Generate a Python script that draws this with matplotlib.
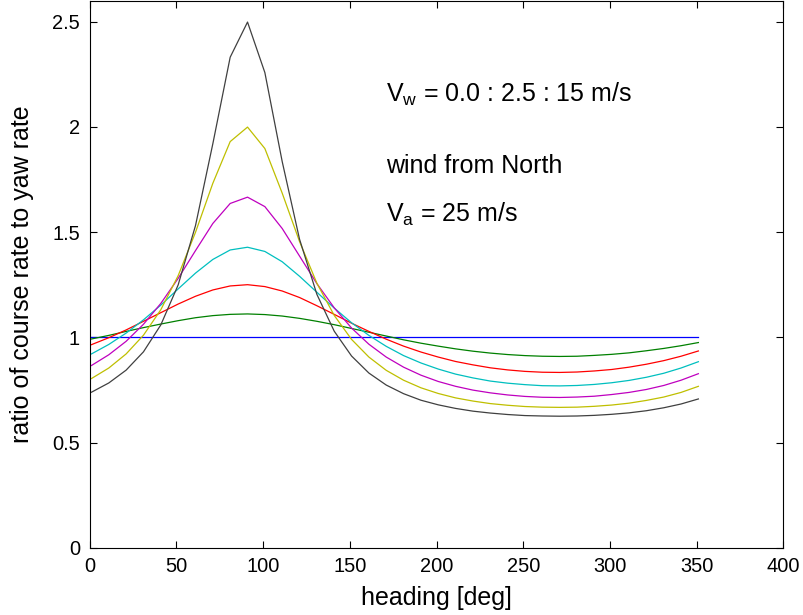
import matplotlib
matplotlib.use('Agg')
import matplotlib.pyplot as plt

plt.rcParams['font.family'] = ['Liberation Sans', 'DejaVu Sans']
plt.rcParams['mathtext.default'] = 'regular'

# heading samples [deg]
heading = [1, 11, 21, 31, 41, 51, 61, 71, 81, 91, 101, 111, 121, 131, 141, 151, 161, 171,
           181, 191, 201, 211, 221, 231, 241, 251, 261, 271, 281, 291, 301, 311, 321, 331, 341, 351]

# ratio of course rate to yaw rate, one list per wind speed (Vw = 0 : 2.5 : 15 m/s)
ratio_vw00 = [1.0, 1.0, 1.0, 1.0, 1.0, 1.0, 1.0, 1.0, 1.0, 1.0, 1.0, 1.0, 1.0, 1.0, 1.0, 1.0, 1.0, 1.0,
              1.0, 1.0, 1.0, 1.0, 1.0, 1.0, 1.0, 1.0, 1.0, 1.0, 1.0, 1.0, 1.0, 1.0, 1.0, 1.0, 1.0, 1.0]
ratio_vw25 = [0.992, 1.009, 1.028, 1.046, 1.063, 1.079, 1.093, 1.103, 1.109, 1.111, 1.108, 1.101,
              1.090, 1.076, 1.060, 1.042, 1.024, 1.006, 0.988, 0.972, 0.958, 0.945, 0.934, 0.925,
              0.918, 0.913, 0.910, 0.909, 0.910, 0.914, 0.919, 0.926, 0.936, 0.947, 0.960, 0.975]
ratio_vw50 = [0.965, 0.998, 1.035, 1.076, 1.117, 1.158, 1.195, 1.225, 1.244, 1.250, 1.241, 1.220,
              1.189, 1.150, 1.109, 1.067, 1.028, 0.991, 0.958, 0.930, 0.906, 0.885, 0.869, 0.855,
              0.845, 0.838, 0.834, 0.833, 0.835, 0.840, 0.847, 0.858, 0.872, 0.889, 0.910, 0.935]
ratio_vw75 = [0.921, 0.966, 1.020, 1.083, 1.153, 1.230, 1.305, 1.370, 1.415, 1.428, 1.408, 1.359,
              1.290, 1.214, 1.139, 1.069, 1.009, 0.957, 0.913, 0.878, 0.849, 0.825, 0.807, 0.792,
              0.782, 0.775, 0.770, 0.769, 0.771, 0.776, 0.784, 0.795, 0.810, 0.829, 0.854, 0.884]
ratio_vw100 = [0.866, 0.917, 0.981, 1.062, 1.161, 1.280, 1.412, 1.541, 1.636, 1.666, 1.621, 1.517,
               1.386, 1.255, 1.140, 1.044, 0.967, 0.906, 0.858, 0.820, 0.790, 0.767, 0.749, 0.736,
               0.726, 0.719, 0.715, 0.714, 0.716, 0.720, 0.728, 0.738, 0.752, 0.771, 0.796, 0.827]
ratio_vw125 = [0.804, 0.854, 0.921, 1.010, 1.131, 1.293, 1.499, 1.732, 1.930, 1.999, 1.897, 1.685,
               1.455, 1.257, 1.104, 0.990, 0.906, 0.843, 0.796, 0.760, 0.733, 0.712, 0.697, 0.685,
               0.677, 0.671, 0.668, 0.667, 0.668, 0.672, 0.678, 0.687, 0.700, 0.716, 0.738, 0.767]
ratio_vw150 = [0.739, 0.783, 0.844, 0.931, 1.059, 1.249, 1.531, 1.920, 2.331, 2.498, 2.258, 1.835,
               1.466, 1.204, 1.029, 0.911, 0.830, 0.773, 0.732, 0.701, 0.679, 0.662, 0.649, 0.640,
               0.633, 0.628, 0.626, 0.625, 0.626, 0.629, 0.634, 0.641, 0.651, 0.665, 0.683, 0.707]

series = [ratio_vw00, ratio_vw25, ratio_vw50, ratio_vw75, ratio_vw100, ratio_vw125, ratio_vw150]
colors = [(0, 0, 1), (0, 0.5, 0), (1, 0, 0), (0, 0.75, 0.75),
          (0.75, 0, 0.75), (0.75, 0.75, 0), (0.25, 0.25, 0.25)]

fig = plt.figure(figsize=(8.04, 6.15), dpi=100)
ax = fig.add_axes([0.1116, 0.1094, 0.8627, 0.8896])

for vals, c in zip(series, colors):
    ax.plot(heading, vals, color=c, lw=0.9)

ax.set_xlim(0, 400)
ax.set_ylim(0, 2.6)
ax.set_xticks([0, 50, 100, 150, 200, 250, 300, 350, 400])
ax.set_yticks([0, 0.5, 1, 1.5, 2, 2.5])
ax.set_yticklabels(['0', '0.5', '1', '1.5', '2', '2.5'])
ax.tick_params(direction='in', length=5, width=0.8, top=True, right=True,
               labelsize=14.4, pad=7)
for s in ax.spines.values():
    s.set_linewidth(0.8)

ax.set_xlabel('heading [deg]', fontsize=18, labelpad=7)
ax.set_ylabel('ratio of course rate to yaw rate', fontsize=18, labelpad=13)

ax.text(171, 2.117, 'V$_{w}$ = 0.0 : 2.5 : 15 m/s', fontsize=18, va='baseline')
ax.text(171, 1.779, 'wind from North', fontsize=18, va='baseline')
ax.text(171, 1.551, 'V$_{a}$ = 25 m/s', fontsize=18, va='baseline')

fig.savefig('out.png', dpi=100, facecolor='white')
